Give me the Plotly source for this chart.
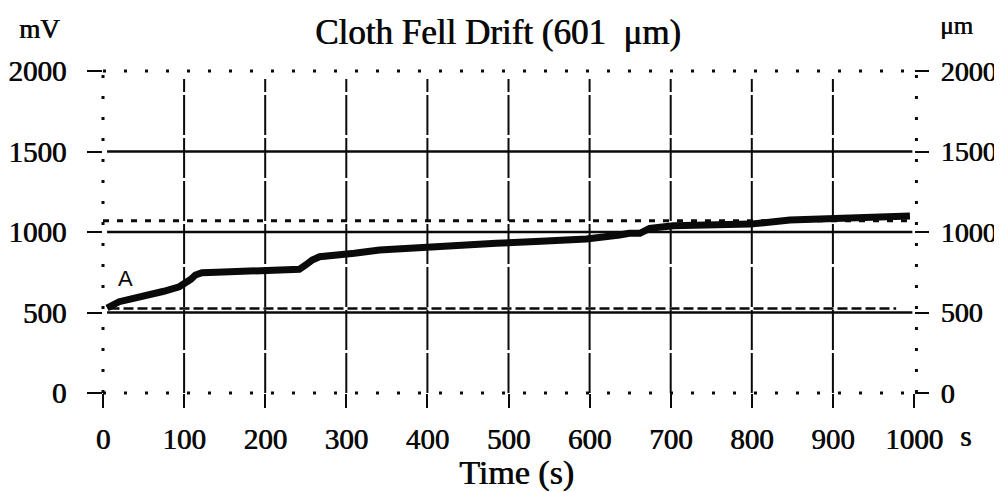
import plotly.graph_objects as go

# ---- data ----
time_s = [5, 12, 20, 35, 57, 75, 94, 102, 108, 114, 122, 140, 160, 180, 196, 220, 242,
          250, 258, 267, 279, 291, 310, 341, 370, 399, 440, 485, 540, 596, 637, 649,
          662, 674, 703, 750, 798, 847, 909, 960, 995]
drift_mv = [528, 550, 567, 585, 608, 632, 660, 681, 705, 733, 747, 750, 753, 760, 768, 766, 768,
            795, 826, 846, 855, 857, 868, 888, 898, 909, 918, 930, 943, 956, 981, 992,
            992, 1023, 1039, 1042, 1049, 1074, 1085, 1092, 1099]

solid_levels = [1500, 1000, 500]
solid_span = [5, 998]
dotted_level = 1070
dotted_span = [0, 1000]
dashed_level = 525
dashed_span = [8, 978]

x_ticks = [0, 100, 200, 300, 400, 500, 600, 700, 800, 900, 1000]
x_labels = ["0", "100", "200", "300", "400", "500", "600", "700", "800", "900", "1000"]
grid_t = [100, 200, 300, 400, 500, 600, 700, 800, 900]
y_ticks = [0, 500, 1000, 1500, 2000]
y_labels = ["0", "500", "1000", "1500", "2000"]

X_RANGE = [0, 1000]
Y_RANGE = [0, 2000]
GRID_TOP = 1950

SERIF = "Liberation Serif, Times New Roman, serif"
INK = "#0a0a0a"
HEAVY = "0.7px 0px 0px #0a0a0a"


def tf(size):
    return dict(family=SERIF, size=size, color=INK, shadow=HEAVY)


fig = go.Figure()

# vertical grid lines
gx, gy = [], []
for t in grid_t:
    gx += [t, t, None]
    gy += [Y_RANGE[0], GRID_TOP, None]
fig.add_trace(go.Scatter(x=gx, y=gy, mode="lines",
                         line=dict(color=INK, width=2, dash="40px,3px"),
                         hoverinfo="skip", showlegend=False))

# solid reference levels
for lv in solid_levels:
    fig.add_trace(go.Scatter(x=solid_span, y=[lv, lv], mode="lines",
                             line=dict(color=INK, width=2.6),
                             hoverinfo="skip", showlegend=False))

# dotted upper level
fig.add_trace(go.Scatter(x=dotted_span, y=[dotted_level, dotted_level], mode="lines",
                         line=dict(color=INK, width=3, dash="6px,8px"),
                         hoverinfo="skip", showlegend=False))

# dashed lower level
fig.add_trace(go.Scatter(x=dashed_span, y=[dashed_level, dashed_level], mode="lines",
                         line=dict(color=INK, width=2.4, dash="10px,4px"),
                         hoverinfo="skip", showlegend=False))

# drift signal
fig.add_trace(go.Scatter(x=time_s, y=drift_mv, mode="lines",
                         line=dict(color=INK, width=7),
                         showlegend=False, name="drift"))

# invisible trace for right axis
fig.add_trace(go.Scatter(x=[time_s[0]], y=[drift_mv[0]], yaxis="y2", mode="markers",
                         marker=dict(opacity=0), hoverinfo="skip", showlegend=False))

# dotted frame
frame = dict(color=INK, width=3, dash="3px,18px")
shapes = [
    dict(type="line", xref="x domain", yref="y domain", x0=0, x1=1, y0=1, y1=1, line=frame),
    dict(type="line", xref="x domain", yref="y domain", x0=0, x1=1, y0=0, y1=0, line=frame),
    dict(type="line", xref="x domain", yref="y domain", x0=0, x1=0, y0=0, y1=1, line=frame),
    dict(type="line", xref="x domain", yref="y domain", x0=1.003, x1=1.003, y0=0, y1=1, line=frame),
]

annotations = [
    dict(text="Cloth Fell Drift (601&nbsp; μm)", xref="paper", yref="paper",
         x=0.487, y=1.12, xanchor="center", yanchor="middle", showarrow=False,
         font=tf(35)),
    dict(text="mV", xref="paper", yref="paper", x=-0.078, y=1.13,
         xanchor="center", yanchor="middle", showarrow=False, font=tf(27)),
    dict(text="μm", xref="paper", yref="paper", x=1.053, y=1.14,
         xanchor="center", yanchor="middle", showarrow=False, font=tf(25)),
    dict(text="Time (s)", xref="paper", yref="paper", x=0.51, y=-0.247,
         xanchor="center", yanchor="middle", showarrow=False, font=tf(34)),
    dict(text="s", xref="paper", yref="paper", x=1.063, y=-0.133,
         xanchor="center", yanchor="middle", showarrow=False, font=tf(29)),
    dict(text="A", xref="x", yref="y", x=28, y=711, xanchor="center", yanchor="middle",
         showarrow=False, font=dict(family="Liberation Sans, Arial, sans-serif", size=22, color=INK)),
]

# page body has an 8px default margin, so the figure is drawn 8px smaller
fig.update_layout(
    width=994, height=484,
    margin=dict(l=95, r=88, t=63, b=99),
    paper_bgcolor="white", plot_bgcolor="white",
    shapes=shapes, annotations=annotations,
    xaxis=dict(range=X_RANGE, tickvals=x_ticks, ticktext=x_labels, automargin=False,
               ticks="outside", ticklen=14, tickwidth=2, tickcolor=INK,
               showgrid=False, zeroline=False, showline=False,
               tickfont=tf(29), ticklabelstandoff=6),
    yaxis=dict(range=Y_RANGE, tickvals=y_ticks, ticktext=y_labels, automargin=False,
               ticks="outside", ticklen=15, tickwidth=2, tickcolor=INK,
               showgrid=False, zeroline=False, showline=False,
               tickfont=tf(29), ticklabelstandoff=15),
    yaxis2=dict(range=Y_RANGE, tickvals=y_ticks, ticktext=y_labels, overlaying="y",
                automargin=False,
                side="right", ticks="outside", ticklen=14, tickwidth=2, tickcolor=INK,
                showgrid=False, zeroline=False, showline=False,
                tickfont=tf(28), ticklabelstandoff=6),
)

fig.write_html("out.html")
